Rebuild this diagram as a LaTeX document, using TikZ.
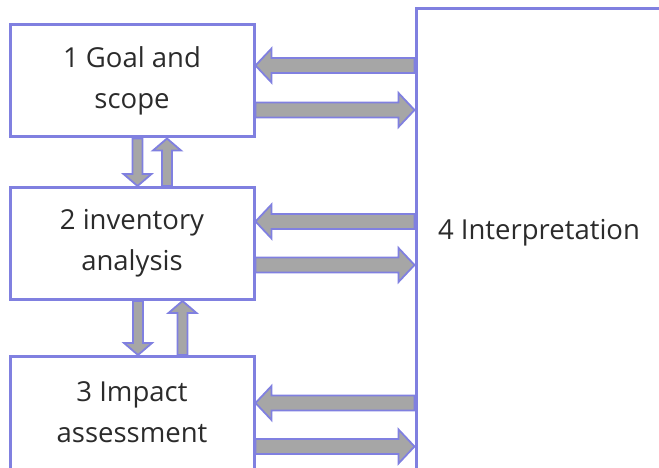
\documentclass[tikz,border=0pt]{standalone}
\usepackage{fontspec}
\setmainfont{Open Sans}
\usetikzlibrary{positioning,calc}
\definecolor{boxline}{HTML}{8080E0}
\definecolor{arrowfill}{HTML}{A6A6A6}
\definecolor{labeltext}{HTML}{2B2B2B}

\begin{document}
\begin{tikzpicture}[x=1pt, y=-1pt,
  stage/.style={draw=boxline, line width=3pt, minimum width=244pt, minimum height=112pt, inner sep=0pt, align=center, text=labeltext},
  every node/.style={font=\fontsize{27.5pt}{41pt}\selectfont},
  blockarrow/.style n args={3}{draw=boxline, fill=arrowfill, line width=1.8pt, line join=miter,
    to path={let \p1=($(\tikztotarget)!#3!(\tikztostart)$) in
      ($(\tikztostart)!#1!90:(\tikztotarget)$) -- ($(\p1)!#1!-90:(\tikztostart)$) -- ($(\p1)!#2!-90:(\tikztostart)$)
      -- (\tikztotarget) -- ($(\p1)!#2!90:(\tikztostart)$) -- ($(\p1)!#1!90:(\tikztostart)$)
      -- ($(\tikztostart)!#1!-90:(\tikztotarget)$) -- cycle}},
  harrow/.style={blockarrow={7.5pt}{17pt}{16pt}},
  varrow/.style={blockarrow={5pt}{14pt}{12pt}}]

  \useasboundingbox (0,0) rectangle (659,468);
  \clip (0,0) rectangle (659,468);

  \node[stage] (goal) at (132,81) {1 Goal and\\scope};
  \node[stage] (inv) [below = 47.5pt of goal] {2 inventory\\analysis};
  % runs on past the lower edge
  \node[stage, minimum height=124pt, text depth=12pt] (imp) [below = 54pt of inv] {3 Impact\\assessment};
  \node[stage, minimum width=260pt, minimum height=480pt, anchor=north west] (interp) at (414.5,7.5) {};
  \node[text=labeltext] (interptext) at (539,233) {4 Interpretation};

  % ends of the block arrows
  \coordinate (goal-in)  at ([yshift=-42pt]goal.north east);
  \coordinate (goal-out) at ([yshift=-86.5pt]goal.north east);
  \coordinate (inv-in)   at ([yshift=-35.5pt]inv.north east);
  \coordinate (inv-out)  at ([yshift=-79pt]inv.north east);
  \coordinate (imp-in)   at ([yshift=-48pt]imp.north east);
  \coordinate (imp-out)  at ([yshift=-91.5pt]imp.north east);
  \coordinate (goal-dn)  at ([xshift=5.5pt]goal.south);
  \coordinate (goal-up)  at ([xshift=35pt]goal.south);
  \coordinate (inv-dn)   at ([xshift=6pt]inv.south);
  \coordinate (inv-up)   at ([xshift=50.5pt]inv.south);

  \path
    (interp.west |- goal-in) edge[harrow] (goal-in)
    (goal-out) edge[harrow] (interp.west |- goal-out)
    (interp.west |- inv-in) edge[harrow] (inv-in)
    (inv-out) edge[harrow] (interp.west |- inv-out)
    (interp.west |- imp-in) edge[harrow] (imp-in)
    (imp-out) edge[harrow] (interp.west |- imp-out)
    (goal-dn) edge[varrow] (goal-dn |- inv.north)
    (goal-up |- inv.north) edge[varrow] (goal-up)
    (inv-dn) edge[varrow] (inv-dn |- imp.north)
    (inv-up |- imp.north) edge[varrow] (inv-up)
  ;
\end{tikzpicture}
\end{document}
